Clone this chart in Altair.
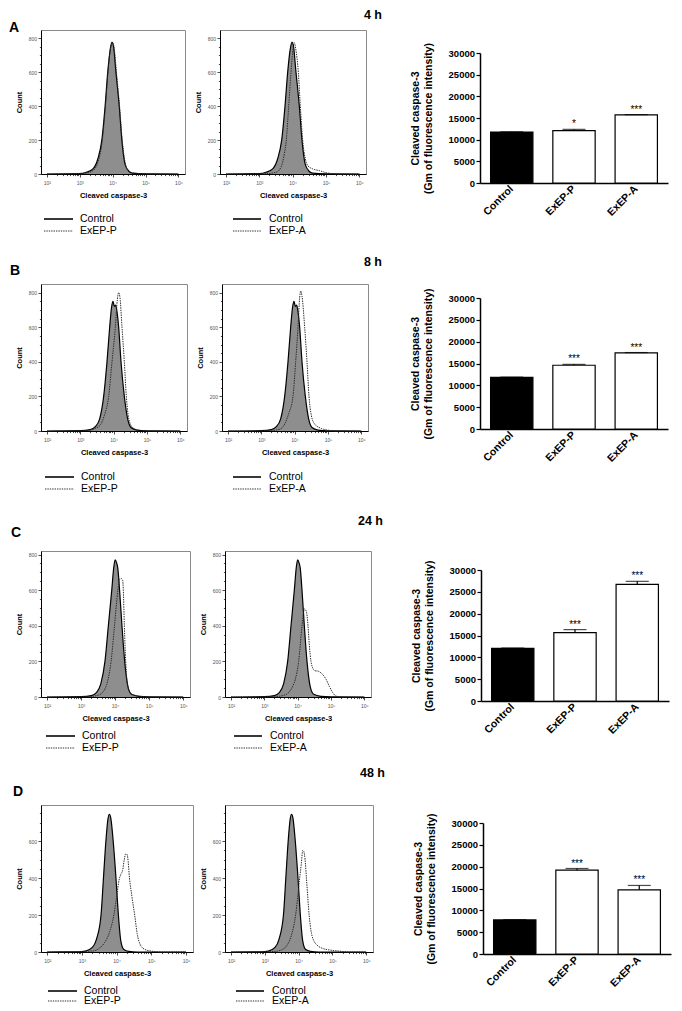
import math
import altair as alt
import pandas as pd

FONT = "Liberation Sans"

# ---------------- histogram data: (log10 fluorescence, count) ----------------
A_CONTROL = [(2.0, 0), (3.0, 2), (3.2, 10), (3.4, 30), (3.55, 90), (3.67, 200), (3.77, 400), (3.85, 600),
             (3.93, 740), (3.98, 778), (4.02, 760), (4.10, 600), (4.20, 400), (4.28, 200), (4.38, 55),
             (4.5, 15), (4.6, 5), (5.0, 1), (6.0, 0)]
A_EXEP_P = [(2.0, 0), (3.2, 5), (3.4, 20), (3.55, 70), (3.68, 190), (3.78, 400), (3.86, 610), (3.94, 750),
            (3.99, 775), (4.04, 750), (4.12, 590), (4.21, 400), (4.29, 200), (4.4, 50), (4.5, 15), (4.7, 4),
            (5.2, 0), (6.0, 0)]
A_EXEP_A = [(2.0, 0), (3.2, 2), (3.5, 10), (3.65, 40), (3.75, 120), (3.81, 200), (3.88, 400), (3.95, 600),
            (4.01, 740), (4.05, 775), (4.09, 740), (4.17, 600), (4.23, 400), (4.30, 200), (4.38, 90),
            (4.45, 50), (4.6, 30), (4.8, 20), (5.0, 8), (5.2, 2), (5.5, 0), (6.0, 0)]

B_CONTROL = [(2.0, 0), (3.0, 2), (3.3, 8), (3.45, 25), (3.58, 70), (3.70, 200), (3.80, 400), (3.88, 600),
             (3.94, 720), (3.98, 750), (4.02, 720), (4.06, 728), (4.10, 690), (4.15, 600), (4.22, 400),
             (4.32, 200), (4.42, 70), (4.52, 20), (4.7, 5), (5.0, 1), (6.0, 0)]
B_EXEP_P = [(2.0, 0), (3.2, 3), (3.45, 15), (3.6, 35), (3.72, 90), (3.85, 200), (3.95, 400), (4.05, 600),
            (4.11, 760), (4.15, 800), (4.19, 770), (4.25, 600), (4.32, 400), (4.38, 200), (4.48, 50),
            (4.6, 15), (4.8, 3), (5.2, 0), (6.0, 0)]
B_EXEP_A = [(2.0, 0), (3.3, 3), (3.55, 10), (3.7, 40), (3.82, 100), (3.95, 200), (4.03, 400), (4.10, 600),
            (4.15, 770), (4.18, 810), (4.22, 780), (4.30, 600), (4.37, 400), (4.43, 200), (4.50, 90),
            (4.6, 40), (4.8, 15), (5.0, 5), (5.3, 0), (6.0, 0)]

C_CONTROL = [(2.0, 0), (3.0, 2), (3.3, 8), (3.45, 25), (3.58, 75), (3.70, 200), (3.80, 400), (3.90, 600),
             (3.96, 730), (4.0, 770), (4.04, 755), (4.08, 720), (4.13, 600), (4.20, 400), (4.28, 200),
             (4.38, 55), (4.48, 15), (4.7, 4), (5.0, 1), (6.0, 0)]
C_EXEP_P = [(2.0, 0), (3.2, 2), (3.5, 10), (3.65, 30), (3.78, 90), (3.88, 200), (3.98, 400), (4.08, 600),
            (4.13, 660), (4.18, 665), (4.22, 655), (4.24, 600), (4.27, 400), (4.31, 200), (4.38, 50),
            (4.5, 15), (4.7, 5), (5.0, 0), (6.0, 0)]
C_EXEP_A = [(2.0, 0), (3.3, 2), (3.55, 8), (3.7, 20), (3.85, 60), (3.93, 100), (4.03, 200), (4.13, 400),
            (4.18, 480), (4.21, 495), (4.25, 485), (4.28, 460), (4.31, 400), (4.35, 290), (4.40, 200),
            (4.46, 160), (4.52, 147), (4.62, 145), (4.70, 135), (4.85, 100), (4.95, 60), (5.05, 25),
            (5.15, 5), (5.3, 0), (6.0, 0)]

D_CONTROL = [(2.0, 0), (2.9, 1), (3.1, 5), (3.3, 25), (3.42, 70), (3.55, 200), (3.62, 400), (3.69, 600),
             (3.75, 720), (3.79, 745), (3.83, 725), (3.90, 600), (3.98, 400), (4.05, 200), (4.12, 60),
             (4.2, 15), (4.35, 3), (4.6, 0), (6.0, 0)]
D_EXEP_P = [(2.0, 0), (3.3, 5), (3.5, 20), (3.65, 50), (3.8, 110), (3.92, 200), (4.0, 300), (4.07, 390),
            (4.12, 420), (4.17, 440), (4.22, 500), (4.26, 530), (4.29, 530), (4.32, 510), (4.37, 400),
            (4.44, 300), (4.52, 200), (4.59, 100), (4.68, 40), (4.8, 15), (5.0, 5), (5.3, 0), (6.0, 0)]
D_EXEP_A = [(2.0, 0), (3.3, 3), (3.5, 12), (3.63, 30), (3.8, 100), (3.91, 200), (4.03, 400), (4.08, 480),
            (4.12, 550), (4.15, 545), (4.19, 500), (4.23, 400), (4.31, 200), (4.38, 100), (4.45, 60),
            (4.53, 40), (4.7, 20), (4.95, 10), (5.2, 5), (5.5, 0), (6.0, 0)]

# ---------------- bar chart data ----------------
GROUPS = ["Control", "ExEP-P", "ExEP-A"]
A_MEAN = [11750, 12100, 15700]
A_SEM = [60, 280, 80]
A_SIG = ["", "*", "***"]
B_MEAN = [11800, 14600, 17450]
B_SEM = [80, 200, 60]
B_SIG = ["", "***", "***"]
C_MEAN = [12050, 15650, 26700]
C_SEM = [80, 700, 700]
C_SIG = ["", "***", "***"]
D_MEAN = [7800, 19200, 14700]
D_SEM = [60, 380, 1000]
D_SIG = ["", "***", "***"]

ROW_TITLES = ["4 h", "8 h", "24 h", "48 h"]
PANEL_LABELS = ["A", "B", "C", "D"]
CONTROL_NAME = "Control"
TREAT_NAMES = ["ExEP-P", "ExEP-A"]
X_AXIS_TITLE = "Cleaved caspase-3"
Y_HIST_TITLE = "Count"
Y_BAR_TITLE = ["Cleaved caspase-3", "(Gm of fluorescence intensity)"]

# ---------------- layout (chart pixel coordinates) ----------------
LAYOUT = [
    dict(row=(0, 245), hist_top=21, hist_h=144, bar_top=44, bar_h=130, leg=(210, 222), title_y=6,
         label_y=19, ymax=850, ylab=800, h1=(32, 144), h2=(208, 146)),
    dict(row=(245, 502), hist_top=273, hist_h=147, bar_top=287, bar_h=131, leg=(466, 478), title_y=251,
         label_y=260, ymax=850, ylab=800, h1=(31, 146), h2=(210, 146)),
    dict(row=(502, 752), hist_top=538, hist_h=146, bar_top=557, bar_h=131, leg=(723, 735), title_y=508,
         label_y=520, ymax=820, ylab=800, h1=(30, 149), h2=(212, 146)),
    dict(row=(752, 992), hist_top=790, hist_h=147, bar_top=808, bar_h=131, leg=(976, 986), title_y=758,
         label_y=777, ymax=795, ylab=750, h1=(28, 152), h2=(210, 148)),
]
CELL_X = [(0, 183), (183, 377), (377, 656)]
BAR_LEFT, BAR_W = 466, 188
TITLE_RIGHT = 370

X_MAJOR = [2.0, 3.0, 4.0, 5.0, 6.0]
X_MINOR = [round(math.log10(k * 10 ** d), 4) for d in range(2, 6) for k in range(2, 10)]

ONE = pd.DataFrame({"s": [0]})


def spacer(x0, x1, y0, y1):
    c = lambda **kw: alt.Chart(ONE).mark_rule(opacity=0, strokeOpacity=0).encode(**kw)
    return [c(x=alt.value(x0), x2=alt.value(x1), y=alt.value(y0)),
            c(x=alt.value(x0), x2=alt.value(x1), y=alt.value(y1))]


def text_at(txt, x, y, size, weight="normal", align="left"):
    return alt.Chart(ONE).mark_text(fontSize=size, fontWeight=weight, align=align, baseline="middle",
                                    font=FONT, color="black").encode(
        x=alt.value(x), y=alt.value(y), text=alt.value(txt))


def hist_cell(L, ctrl, trt, trt_name, left, width, cell, leg_line, leg_text, panel=None, title=None):
    top, H = L["hist_top"], L["hist_h"]
    xaxis = alt.Axis(
        values=X_MAJOR + X_MINOR,
        labelExpr="datum.value == round(datum.value) ? '10' + ['⁰','¹','²','³','⁴','⁵','⁶'][datum.value] : ''",
        tickSize={"condition": {"test": "datum.value == round(datum.value)", "value": 3}, "value": 1.6},
        labelFontSize=5, labelColor="#555", labelPadding=3, labelOverlap=False, labelFlush=False,
        title=X_AXIS_TITLE, titleFontSize=7.5, titleFontWeight="bold", titlePadding=6, titleColor="black",
        grid=False, domainColor="black", domainWidth=1, tickColor="black", tickWidth=0.7)
    yaxis = alt.Axis(
        values=list(range(0, L["ylab"] + 1, 50)),
        labelExpr="datum.value % 200 == 0 ? datum.label : ''",
        tickSize={"condition": {"test": "datum.value % 200 == 0", "value": 3}, "value": 1.6},
        labelFontSize=5, labelColor="#555", labelPadding=1.5, labelOverlap=False, labelFlush=False,
        title=Y_HIST_TITLE, titleFontSize=7.5, titleFontWeight="bold", titlePadding=5, titleColor="black",
        grid=False, domainColor="black", domainWidth=1, tickColor="black", tickWidth=0.7)
    x = alt.X("lx:Q", scale=alt.Scale(domain=[1.82, 6.2], nice=False, zero=False), axis=xaxis)
    y = alt.Y("n:Q", scale=alt.Scale(domain=[0, L["ymax"]], nice=False), axis=yaxis)
    cdf = pd.DataFrame(ctrl, columns=["lx", "n"])
    tdf = pd.DataFrame(trt, columns=["lx", "n"])
    ly1, ly2 = L["leg"][0] - top, L["leg"][1] - top
    layers = [
        alt.Chart(cdf).mark_area(color="#8e8e8e", interpolate="monotone").encode(x=x, y=y),
        alt.Chart(cdf).mark_line(color="black", strokeWidth=1.2, interpolate="monotone").encode(x=x, y=y),
        alt.Chart(tdf).mark_line(color="#2a2a2a", strokeWidth=1, strokeDash=[1.4, 1],
                                 interpolate="monotone").encode(x=x, y=y),
        alt.Chart(ONE).mark_rule(color="#222", strokeWidth=1.8).encode(
            x=alt.value(leg_line[0] - left), x2=alt.value(leg_line[1] - left), y=alt.value(ly1)),
        alt.Chart(ONE).mark_rule(color="#333", strokeWidth=1.1, strokeDash=[1.4, 1]).encode(
            x=alt.value(leg_line[0] - left), x2=alt.value(leg_line[1] - left), y=alt.value(ly2)),
        text_at(CONTROL_NAME, leg_text - left, ly1, 10.5),
        text_at(trt_name, leg_text - left, ly2, 10.5),
    ] + spacer(cell[0] - left, cell[1] - left, L["row"][0] - top, L["row"][1] - top)
    if panel:
        layers.append(text_at(panel, -left, L["label_y"] - top, 14, "bold"))
    if title:
        layers.append(text_at(title, TITLE_RIGHT - left, L["title_y"] - top, 12.5, "bold", "right"))
    return alt.layer(*layers).properties(
        width=width, height=H, view=alt.ViewBackground(stroke="#8a8a8a", strokeWidth=1))


def bar_cell(L, means, sems, sigs):
    # the cell's origin is aligned with the histogram tops of the same row
    origin = L["hist_top"]
    Hc = L["bar_top"] + L["bar_h"] - origin
    off = L["bar_top"] - origin
    df = pd.DataFrame({"group": GROUPS, "mean": means,
                       "top": [m + s for m, s in zip(means, sems)], "sig": sigs})
    xaxis = alt.Axis(title=None, labelAngle=-45, labelAlign="right", labelBaseline="middle",
                     labelFontSize=10.5, labelFontWeight="bold", labelColor="black", labelPadding=4,
                     ticks=False, domainColor="black", domainWidth=1.5, labelFont=FONT)
    yaxis = alt.Axis(values=[0, 5000, 10000, 15000, 20000, 25000, 30000], format="d",
                     labelFontSize=9.5, labelFontWeight="bold", labelColor="black", labelPadding=1.5,
                     tickSize=4, tickWidth=1.2, tickColor="black", domainColor="black", domainWidth=1.5,
                     grid=False, title=Y_BAR_TITLE, titleFontSize=10.5, titleFontWeight="bold",
                     titleColor="black", titlePadding=15, titleLineHeight=13, labelFont=FONT, titleFont=FONT)
    x = alt.X("group:N", sort=GROUPS, scale=alt.Scale(paddingInner=0.32, paddingOuter=0.17), axis=xaxis)
    ysc = alt.Scale(domain=[0, 30000], nice=False, range=[Hc, off])
    bars = alt.Chart(df).mark_bar(stroke="black", strokeWidth=1.2).encode(
        x=x, y=alt.Y("mean:Q", scale=ysc, axis=yaxis),
        fill=alt.Fill("group:N", scale=alt.Scale(domain=GROUPS, range=["#000000", "#ffffff", "#ffffff"]),
                      legend=None))
    err = alt.Chart(df).mark_rule(color="black", strokeWidth=1.2).encode(
        x=x, y=alt.Y("mean:Q", scale=ysc, axis=yaxis), y2="top:Q")
    cap = alt.Chart(df).mark_tick(color="black", size=23, thickness=1.2).encode(
        x=x, y=alt.Y("top:Q", scale=ysc, axis=yaxis))
    stars = alt.Chart(df).mark_text(baseline="bottom", dy=0, fontSize=10, font=FONT, color="black").encode(
        x=x, y=alt.Y("top:Q", scale=ysc, axis=yaxis), text="sig:N")
    sp = spacer(CELL_X[2][0] - BAR_LEFT, CELL_X[2][1] - BAR_LEFT, L["row"][0] - origin, L["row"][1] - origin)
    return alt.layer(bars, err, cap, stars, *sp).properties(width=BAR_W, height=Hc)


HISTS = [(A_CONTROL, A_EXEP_P, A_EXEP_A), (B_CONTROL, B_EXEP_P, B_EXEP_A),
         (C_CONTROL, C_EXEP_P, C_EXEP_A), (D_CONTROL, D_EXEP_P, D_EXEP_A)]
BARS = [(A_MEAN, A_SEM, A_SIG), (B_MEAN, B_SEM, B_SIG), (C_MEAN, C_SEM, C_SIG), (D_MEAN, D_SEM, D_SIG)]

rows = []
for i, L in enumerate(LAYOUT):
    ctrl, tp, ta = HISTS[i]
    h1 = hist_cell(L, ctrl, tp, TREAT_NAMES[0], L["h1"][0], L["h1"][1], CELL_X[0],
                   (35, 64), 71, panel=PANEL_LABELS[i])
    h2 = hist_cell(L, ctrl, ta, TREAT_NAMES[1], L["h2"][0], L["h2"][1], CELL_X[1],
                   (221, 249), 257, title=ROW_TITLES[i])
    b = bar_cell(L, *BARS[i])
    rows.append(alt.hconcat(h1, h2, b, spacing=0))

chart = alt.vconcat(*rows, spacing=0).properties(padding=0).configure_view(
    stroke="transparent").configure_axis(labelFont=FONT, titleFont=FONT).configure_text(font=FONT)

chart.save("out.html", embed_options={"renderer": "svg", "actions": False})
